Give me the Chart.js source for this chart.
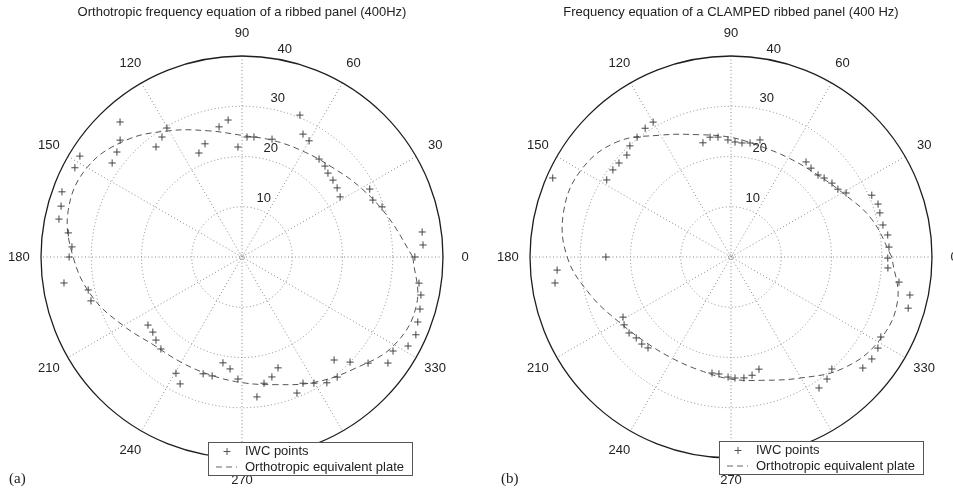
<!DOCTYPE html>
<html><head><meta charset="utf-8">
<script src="https://cdn.jsdelivr.net/npm/chart.js@4.4.1/dist/chart.umd.min.js"></script>
<style>
html,body{margin:0;padding:0;background:#fff;width:953px;height:494px;overflow:hidden}
canvas{position:absolute;top:0}
#ca{left:0}
#cb{left:476px}
</style></head><body>
<canvas id="ca" width="476" height="494"></canvas>
<canvas id="cb" width="477" height="494"></canvas>
<script>
// ---- data ----
const angleTicks = [0,30,60,90,120,150,180,210,240,270,300,330];
const ringTicks = [10,20,30,40];
const rMax = 40;
const titleA = 'Orthotropic frequency equation of a ribbed panel (400Hz)';
const titleB = 'Frequency equation of a CLAMPED ribbed panel (400 Hz)';
const legendLabels = ['IWC points', 'Orthotropic equivalent plate'];

const iwcAngleA = [0,3.8,7.9,19.7,23.5,28.0,31.5,36.0,40.2,44.3,47.6,51.8,60.0,63.6,67.8,75.7,84.3,87.6,92.1,95.8,100.0,108.1,112.5,120.2,123.7,128.0,132.1,136.2,140.0,144.1,148.1,151.9,160.1,164.3,168.3,172.1,176.6,180.0,188.3,192.1,196.2,215.9,220.1,224.0,228.6,240.4,244.0,251.6,255.9,259.8,263.9,268.1,276.1,279.9,284.0,288.0,292.0,295.8,299.7,304.0,308.4,311.8,315.8,319.9,324.0,328.1,331.8,335.9,339.7,343.7,348.0,351.6];
const iwcRadiusA = [34.4,36.1,36.2,29.6,28.4,28.8,22.9,23.4,23.7,23.9,24.5,24.8,26.7,27.3,30.5,24.2,24.0,23.9,21.9,27.4,26.3,23.7,22.4,29.7,28.7,27.8,36.2,33.6,32.5,31.9,38.0,37.7,38.1,37.4,37.2,34.9,33.9,34.4,35.8,31.3,31.3,23.1,23.2,23.8,24.4,26.6,28.1,24.5,24.4,21.4,22.4,24.3,28.0,25.5,24.6,23.2,29.2,27.9,28.9,30.2,30.5,27.5,30.0,32.8,35.9,35.4,37.5,37.9,37.3,36.9,36.4,35.6];

const iwcAngleB = [3.6,8.0,11.9,16.5,19.8,23.7,29.1,32.4,36.2,40.3,43.3,48.0,51.7,76.1,80.5,84.5,88.0,91.5,96.2,99.9,103.8,120.0,123.7,128.1,132.3,135.6,140.0,143.6,148.2,156.1,180.0,184.3,188.4,209.1,212.4,216.7,220.5,224.3,227.6,260.7,264.1,268.6,271.9,276.1,280.1,284.0,303.9,308.2,312.0,319.9,324.1,328.2,331.9,343.9,348.0,351.5,356.0,359.6];
const iwcRadiusB = [31.5,31.5,30.9,30.9,31.1,30.6,26.2,25.2,24.9,24.3,23.8,23.8,24.1,24.0,23.0,22.8,22.9,23.3,24.0,24.2,23.4,31.0,30.8,30.3,29.9,29.0,29.1,29.2,29.1,38.8,24.9,34.7,35.4,24.6,25.2,25.3,24.8,24.8,24.5,23.4,23.4,23.9,24.1,24.2,23.9,23.0,31.4,30.9,30.0,34.3,34.6,34.4,33.8,36.7,36.4,33.8,31.3,31.2];

const plateAngle = [0,15,30,45,60,75,90,105,120,135,150,165,180,195,210,225,240,255,270,285,300,315,330,345];
const plateRadiusA = [34.0,30.2,27.4,25.3,24.3,24.0,24.2,26.0,29.0,32.8,35.6,35.8,33.6,30.8,27.3,24.8,24.2,24.3,25.0,26.3,28.8,31.5,35.0,36.0];
const plateRadiusB = [32.0,29.0,25.6,23.6,22.8,22.8,23.8,25.2,28.0,32.3,34.5,34.5,32.6,29.0,25.8,24.0,23.3,23.4,24.3,25.4,27.8,31.4,33.8,34.3];

// ---- helpers ----
const D2R = Math.PI/180;
function toXY(angles, radii){
  return angles.map((a,i)=>({x: radii[i]*Math.cos(a*D2R), y: radii[i]*Math.sin(a*D2R)}));
}
function closed(pts){ return pts.concat([pts[0]]); }

const FONT = '"Liberation Sans", Arial, Helvetica, sans-serif';
const INK = '#222';

const polarDecor = {
  id: 'polarDecor',
  beforeDatasetsDraw(chart, args, o){
    const ctx = chart.ctx, xs = chart.scales.x, ys = chart.scales.y;
    const cx = xs.getPixelForValue(0), cy = ys.getPixelForValue(0);
    ctx.save();
    // spokes
    ctx.strokeStyle = '#888'; ctx.lineWidth = 1; ctx.setLineDash([1,2.5]);
    angleTicks.forEach(a=>{
      if (a >= 180) return;
      ctx.beginPath();
      ctx.moveTo(xs.getPixelForValue(rMax*Math.cos(a*D2R)), ys.getPixelForValue(rMax*Math.sin(a*D2R)));
      ctx.lineTo(xs.getPixelForValue(-rMax*Math.cos(a*D2R)), ys.getPixelForValue(-rMax*Math.sin(a*D2R)));
      ctx.stroke();
    });
    // rings
    ringTicks.forEach(r=>{
      const rx = xs.getPixelForValue(r)-cx, ry = cy-ys.getPixelForValue(r);
      ctx.beginPath();
      if (r === rMax){ ctx.setLineDash([]); ctx.strokeStyle = '#1e1e1e'; ctx.lineWidth = 1.3; }
      else { ctx.setLineDash([1,2.5]); ctx.strokeStyle = '#888'; ctx.lineWidth = 1; }
      ctx.ellipse(cx, cy, rx, ry, 0, 0, Math.PI*2);
      ctx.stroke();
    });
    ctx.lineWidth = 1;
    ctx.setLineDash([1,1.5]); ctx.strokeStyle='#888';
    ctx.beginPath(); ctx.arc(cx, cy, 2.5, 0, Math.PI*2); ctx.stroke();
    ctx.restore();
  },
  afterDraw(chart, args, o){
    const ctx = chart.ctx, xs = chart.scales.x, ys = chart.scales.y;
    ctx.save();
    ctx.fillStyle = INK;
    // ring labels
    ctx.font = '13px ' + FONT;
    ctx.textAlign = 'left'; ctx.textBaseline = 'bottom';
    ringTicks.forEach(r=>{
      const rr = r + 0.5;
      ctx.fillText('  ' + r, xs.getPixelForValue(rr*Math.cos(82*D2R)), ys.getPixelForValue(rr*Math.sin(82*D2R)));
    });
    // angle labels
    ctx.textAlign = 'center'; ctx.textBaseline = 'middle';
    angleTicks.forEach(a=>{
      const rr = rMax*1.11;
      ctx.fillText(String(a), xs.getPixelForValue(rr*Math.cos(a*D2R)), ys.getPixelForValue(rr*Math.sin(a*D2R)));
    });
    // title
    ctx.font = '13px ' + FONT;
    ctx.fillText(o.title, xs.getPixelForValue(0), 12);
    // panel label
    ctx.font = '15px "Liberation Serif", "DejaVu Serif", serif';
    ctx.textAlign = 'left';
    ctx.fillText(o.panel, o.panelX, 479);
    // legend box
    const L = o.legend;
    ctx.fillStyle = '#fff';
    ctx.fillRect(L.x, L.y, L.w, L.h);
    ctx.strokeStyle = '#555'; ctx.lineWidth = 1; ctx.setLineDash([]);
    ctx.strokeRect(L.x+0.5, L.y+0.5, L.w, L.h);
    // legend entry 1: cross marker
    const y1 = L.y + 9.5, y2 = L.y + 25;
    ctx.strokeStyle = '#555';
    ctx.beginPath();
    ctx.moveTo(L.x+19-3.5, y1); ctx.lineTo(L.x+19+3.5, y1);
    ctx.moveTo(L.x+19, y1-3.5); ctx.lineTo(L.x+19, y1+3.5);
    ctx.stroke();
    // legend entry 2: dashed line
    ctx.setLineDash([6,4]); ctx.strokeStyle = '#666';
    ctx.beginPath(); ctx.moveTo(L.x+8, y2); ctx.lineTo(L.x+29, y2); ctx.stroke();
    ctx.setLineDash([]);
    ctx.fillStyle = INK; ctx.font = '13px ' + FONT; ctx.textBaseline = 'middle';
    ctx.fillText(legendLabels[0], L.x+37, y1);
    ctx.fillText(legendLabels[1], L.x+37, y2);
    ctx.restore();
  }
};

function makeChart(id, angles, radii, plateR, pad, opts){
  return new Chart(document.getElementById(id), {
    type: 'scatter',
    data: {
      datasets: [
        {
          label: legendLabels[0],
          data: toXY(angles, radii),
          showLine: false,
          pointStyle: 'cross',
          pointRadius: 3.6,
          pointBorderWidth: 1,
          borderColor: '#444',
          backgroundColor: '#444'
        },
        {
          label: legendLabels[1],
          data: closed(toXY(plateAngle, plateR)),
          showLine: true,
          pointRadius: 0,
          borderColor: '#555',
          borderWidth: 1,
          borderDash: [6,4],
          tension: 0.4,
          fill: false
        }
      ]
    },
    options: {
      responsive: false,
      animation: false,
      devicePixelRatio: 1,
      layout: { padding: pad },
      scales: {
        x: { type: 'linear', min: -rMax, max: rMax, display: false },
        y: { type: 'linear', min: -rMax, max: rMax, display: false }
      },
      plugins: {
        legend: { display: false },
        tooltip: { enabled: false },
        polarDecor: opts
      }
    },
    plugins: [polarDecor]
  });
}

makeChart('ca', iwcAngleA, iwcRadiusA, plateRadiusA,
  {left: 41, right: 33, top: 56, bottom: 36},
  {title: titleA, panel: '(a)', panelX: 9, legend: {x: 208, y: 442, w: 204, h: 33}});
makeChart('cb', iwcAngleB, iwcRadiusB, plateRadiusB,
  {left: 54, right: 21, top: 56, bottom: 36},
  {title: titleB, panel: '(b)', panelX: 25, legend: {x: 243, y: 441, w: 204, h: 33}});
</script>
</body></html>
